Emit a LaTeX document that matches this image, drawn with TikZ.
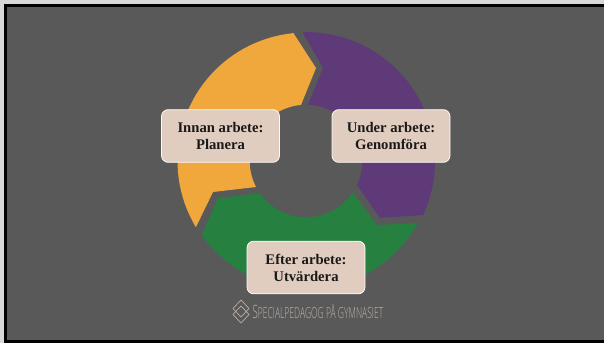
\documentclass[tikz,border=0pt]{standalone}
\usepackage{fontspec}
\setmainfont{Liberation Serif}
\newfontfamily\foot{Open Sans Light}
\definecolor{bg}{HTML}{595959}
\definecolor{yel}{HTML}{F0A83C}
\definecolor{pur}{HTML}{5E3A78}
\definecolor{gre}{HTML}{26803F}
\definecolor{card}{HTML}{E0CDBF}
\definecolor{foo}{HTML}{BDAFA4}
\definecolor{edge}{HTML}{D8D8D8}
\tikzset{
  card/.style={draw=white!90!card,line width=.6pt,fill=card,rounded corners=5pt,minimum width=88.5pt,minimum height=39.5pt,align=center,font=\bfseries\fontsize{11}{12.7}\selectfont,text=black!90,inner sep=0pt},
  ringplot/.style={samples=40}
}
\begin{document}
\begin{tikzpicture}[x=.75pt,y=-.75pt]
\useasboundingbox (0,0) rectangle (604,343);
\fill[edge] (0,0) rectangle (604,343);
\fill[black] (3.5,3.5) rectangle (604,343);
\fill[bg] (6.5,6.5) rectangle (604,340);
% yellow
\fill[yel] (294,34) -- (316,68) -- (301,105)
  -- plot[ringplot,domain=95:207.5] ({306+56.3*cos(\x)},{161-56.3*sin(\x)})
  -- (213,192) -- (196,227)
  -- plot[ringplot,domain=211:95.4] ({306+128.5*cos(\x)},{161-128.5*sin(\x)}) -- cycle;
% purple
\fill[pur] (303,33) -- (323,68) -- (308,105)
  -- plot[ringplot,domain=88:-25.2] ({306+56.3*cos(\x)},{161-56.3*sin(\x)})
  -- (380,218) -- (423,215)
  -- plot[ringplot,domain=-24.8:91.3] ({306+129*cos(\x)},{161-129*sin(\x)}) -- cycle;
% green
\fill[gre] (418,223) -- (377,225) -- (353,193)
  -- plot[ringplot,domain=-34:-145] ({306+56.3*cos(\x)},{161-56.3*sin(\x)})
  -- (218,198) -- (202,235)
  -- plot[ringplot,domain=-144.6:-29] ({306+128*cos(\x)},{161-128*sin(\x)}) -- cycle;
\node[card] (innan) at (220.5,136) {Innan arbete:\\Planera};
\node[card] (under) at (391,136) {Under arbete:\\Genomföra};
\node[card] (efter) at (306,267.5) {Efter arbete:\\Utvärdera};
\draw[foo,line width=.5pt] (241,300) -- (249,308.5) -- (241,317) -- (233,308.5) -- cycle;
\draw[foo,line width=.5pt] (241,306) -- (249,314.5) -- (241,323) -- (233,314.5) -- cycle;
\node[text=foo,inner sep=0pt,anchor=west] (foot) at (252,311.5) {\foot\scalebox{.64}[1.15]{\fontsize{12}{12}\selectfont S\fontsize{10}{12}\selectfont PECIALPEDAGOG PÅ GYMNASIET}};
\end{tikzpicture}
\end{document}
